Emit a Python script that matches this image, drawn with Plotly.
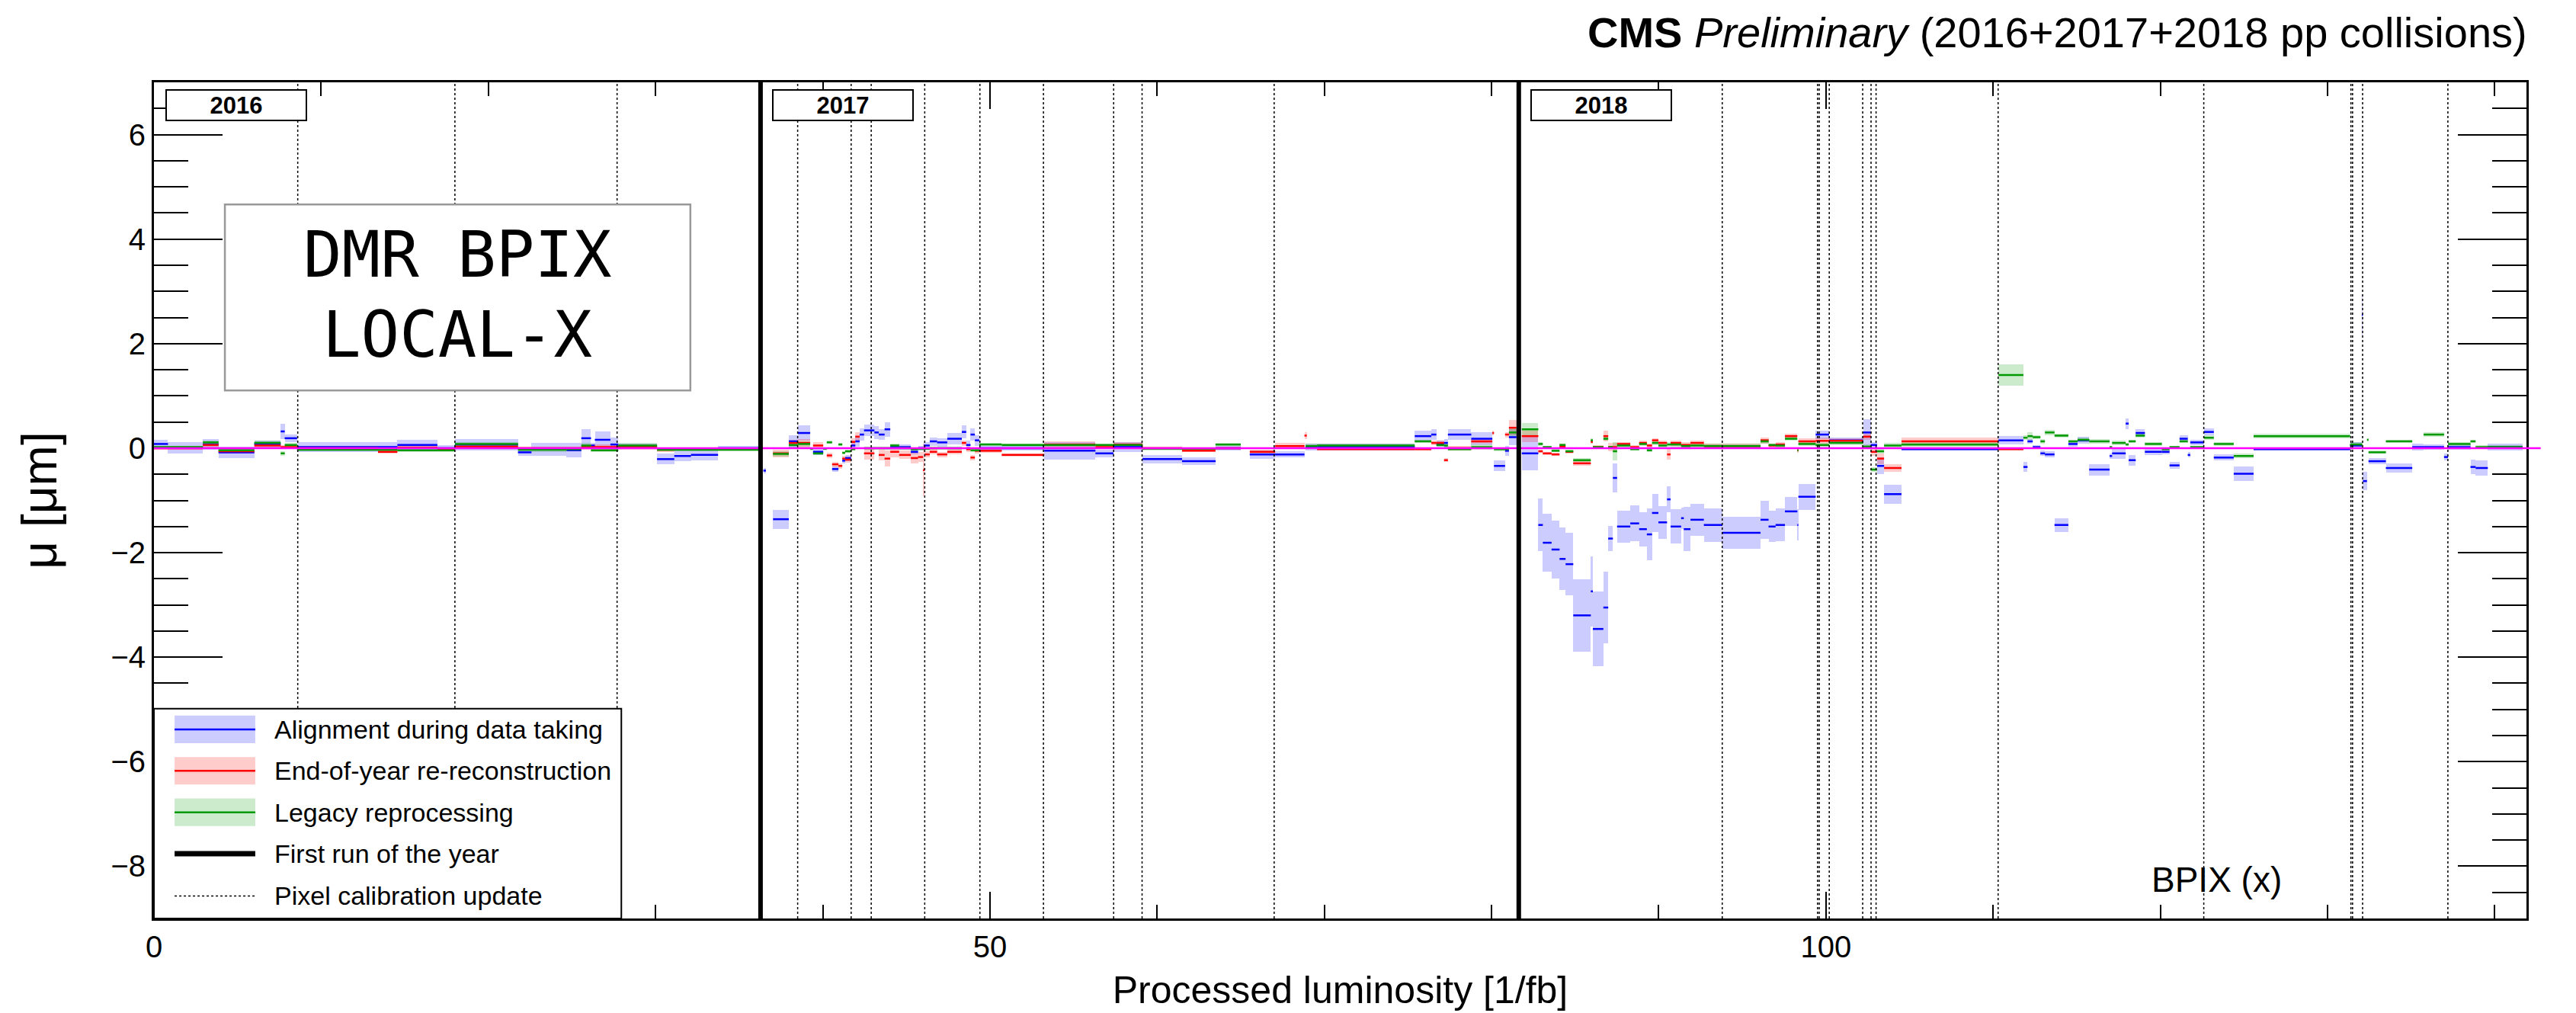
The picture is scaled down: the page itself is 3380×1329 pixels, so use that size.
import plotly.graph_objects as go

# ---------------- data (x_start, x_end, mean, error) in [1/fb] and [um] ----------------
blue_2016 = [
    (0.0, 0.84, 0.08, 0.08), (0.84, 2.93, 0.01, 0.11), (2.93, 3.86, 0.07, 0.1),
    (3.86, 6.0, -0.08, 0.11), (6.0, 7.58, 0.08, 0.07), (7.58, 7.82, 0.32, 0.15),
    (7.82, 8.56, 0.19, 0.07), (8.56, 14.56, 0.02, 0.09), (14.56, 16.95, 0.06, 0.1),
    (16.95, 18.0, 0.0, 0.06), (18.0, 21.77, 0.07, 0.11), (21.77, 22.58, -0.08, 0.07),
    (22.58, 24.68, -0.02, 0.12), (24.68, 25.56, -0.04, 0.14), (25.56, 26.14, 0.19, 0.18),
    (26.14, 26.37, 0.05, 0.05), (26.37, 27.3, 0.16, 0.16), (27.3, 27.77, 0.07, 0.13),
    (27.77, 30.09, 0.04, 0.05), (30.09, 31.12, -0.21, 0.1), (31.12, 32.12, -0.15, 0.1),
    (32.12, 33.74, -0.13, 0.1), (33.74, 36.19, 0.0, 0.05),
]
red_2016 = [
    (0.0, 2.93, 0.0, 0.03), (2.93, 3.86, 0.06, 0.04), (3.86, 6.0, -0.06, 0.04),
    (6.0, 7.58, 0.05, 0.04), (7.58, 8.56, 0.02, 0.04), (8.56, 13.4, 0.0, 0.03),
    (13.4, 14.56, -0.07, 0.03), (14.56, 16.95, 0.01, 0.03), (16.95, 18.0, -0.03, 0.03),
    (18.0, 21.77, 0.03, 0.03), (21.77, 25.56, 0.0, 0.03), (25.56, 26.14, 0.02, 0.05),
    (26.14, 30.09, 0.02, 0.05), (30.09, 31.12, -0.03, 0.04), (31.12, 36.19, -0.01, 0.03),
]
green_2016 = [
    (0.0, 2.93, 0.02, 0.03), (2.93, 3.86, 0.11, 0.04), (3.86, 6.0, -0.04, 0.04),
    (6.0, 7.58, 0.1, 0.04), (7.58, 7.82, -0.1, 0.04), (7.82, 8.56, 0.06, 0.04),
    (8.56, 14.56, -0.03, 0.03), (14.56, 18.0, -0.04, 0.03), (18.0, 21.77, 0.08, 0.04),
    (21.77, 24.68, -0.03, 0.04), (24.68, 25.56, -0.02, 0.04), (25.56, 26.14, 0.05, 0.05),
    (26.14, 27.77, -0.04, 0.04), (27.77, 30.09, 0.05, 0.05), (30.09, 36.19, -0.03, 0.03),
]

blue_2017 = [
    (36.45, 36.6, -0.43, 0.05), (37.03, 37.97, -1.36, 0.18), (37.97, 38.5, 0.13, 0.12),
    (38.5, 39.25, 0.29, 0.15), (39.42, 40.03, -0.07, 0.06), (40.56, 40.94, -0.4, 0.05),
    (41.17, 41.34, -0.24, 0.05), (41.34, 41.69, -0.19, 0.06), (41.69, 41.95, 0.05, 0.08),
    (41.95, 42.21, 0.13, 0.1), (42.21, 42.47, 0.26, 0.12), (42.47, 43.09, 0.34, 0.11),
    (43.09, 43.35, 0.3, 0.12), (43.35, 43.7, 0.26, 0.1), (43.7, 44.04, 0.36, 0.14),
    (44.04, 44.57, 0.02, 0.05), (44.57, 45.27, 0.02, 0.05), (45.27, 45.7, -0.07, 0.05),
    (45.7, 46.05, 0.0, 0.05), (46.05, 46.4, 0.05, 0.06), (46.4, 46.84, 0.13, 0.08),
    (46.84, 47.45, 0.11, 0.08), (47.45, 48.32, 0.18, 0.11), (48.32, 48.58, 0.31, 0.12),
    (48.58, 48.84, 0.06, 0.08), (48.84, 49.1, 0.26, 0.12), (49.1, 49.36, 0.15, 0.1),
    (49.36, 50.71, 0.0, 0.04), (50.71, 53.25, 0.0, 0.05), (53.25, 56.31, -0.05, 0.17),
    (56.31, 57.39, -0.1, 0.07), (57.39, 59.13, 0.02, 0.1), (59.13, 61.49, -0.21, 0.08),
    (61.49, 63.5, -0.25, 0.07), (63.5, 65.0, 0.0, 0.05), (65.54, 67.06, -0.12, 0.08),
    (67.06, 68.81, -0.12, 0.06), (68.88, 69.57, 0.02, 0.07), (69.57, 75.41, 0.02, 0.07),
    (75.41, 76.4, 0.23, 0.1), (76.4, 76.7, 0.26, 0.1), (76.7, 77.16, 0.09, 0.06),
    (77.16, 77.39, 0.1, 0.08), (77.39, 78.79, 0.26, 0.1), (78.79, 80.05, 0.18, 0.12),
    (80.15, 80.81, -0.34, 0.1), (80.81, 81.04, -0.05, 0.1), (81.04, 81.49, 0.21, 0.15),
]
red_2017 = [
    (37.03, 37.97, -0.1, 0.07), (37.97, 38.5, 0.1, 0.06), (38.5, 39.25, 0.1, 0.08),
    (39.42, 40.03, 0.05, 0.07), (40.24, 40.56, -0.14, 0.05), (40.56, 40.94, -0.31, 0.05),
    (40.94, 41.17, -0.34, 0.05), (41.17, 41.34, -0.2, 0.05), (41.34, 41.69, -0.22, 0.06),
    (41.69, 41.95, 0.12, 0.07), (41.95, 42.21, 0.22, 0.08), (42.47, 43.09, -0.1, 0.12),
    (43.35, 43.7, -0.13, 0.1), (43.7, 44.04, -0.2, 0.15), (44.04, 44.57, -0.07, 0.1),
    (44.57, 45.27, -0.13, 0.08), (45.27, 45.7, -0.19, 0.1), (45.7, 46.0, -0.17, 0.1),
    (46.0, 46.1, -0.42, 0.5), (46.1, 46.4, -0.12, 0.06), (46.4, 46.84, -0.07, 0.05),
    (46.84, 47.45, -0.12, 0.05), (47.45, 48.32, -0.07, 0.05), (48.32, 48.58, 0.1, 0.05),
    (48.58, 48.84, -0.02, 0.05), (48.84, 49.1, -0.18, 0.05), (49.1, 49.36, -0.05, 0.05),
    (49.36, 50.71, -0.05, 0.04), (50.71, 53.25, -0.13, 0.03), (53.25, 56.31, 0.07, 0.06),
    (56.31, 57.39, 0.02, 0.03), (57.39, 59.13, 0.07, 0.04), (59.13, 61.49, 0.0, 0.03),
    (61.49, 63.49, -0.05, 0.03), (63.49, 65.0, 0.0, 0.03), (65.54, 67.06, -0.07, 0.04),
    (67.06, 68.81, 0.04, 0.06), (68.81, 68.95, 0.24, 0.06), (69.57, 75.41, -0.02, 0.03),
    (75.41, 76.4, -0.02, 0.03), (76.4, 76.7, 0.1, 0.04), (76.7, 77.16, 0.1, 0.04),
    (77.16, 77.39, -0.23, 0.04), (77.39, 78.79, 0.0, 0.04), (78.79, 80.05, 0.13, 0.05),
    (80.05, 80.15, 0.29, 0.04), (80.81, 81.04, 0.26, 0.05), (81.04, 81.49, 0.39, 0.15),
]
green_2017 = [
    (37.03, 37.97, -0.11, 0.05), (37.97, 38.5, 0.06, 0.05), (38.5, 39.25, 0.08, 0.05),
    (39.25, 39.42, -0.01, 0.03), (39.42, 40.03, -0.1, 0.03), (40.03, 40.24, -0.01, 0.03),
    (40.24, 40.56, 0.11, 0.03), (40.94, 41.17, 0.07, 0.03), (41.17, 41.34, -0.09, 0.03),
    (41.34, 41.69, -0.06, 0.03), (41.69, 41.95, -0.02, 0.03), (42.47, 44.04, 0.0, 0.03),
    (44.04, 44.57, 0.05, 0.03), (44.57, 45.27, 0.0, 0.03), (45.27, 45.7, -0.02, 0.03),
    (45.7, 46.4, -0.01, 0.03), (46.4, 48.32, 0.0, 0.03), (48.84, 49.36, -0.04, 0.03),
    (49.36, 50.71, 0.07, 0.03), (50.71, 53.25, 0.06, 0.03), (53.25, 56.31, 0.06, 0.03),
    (56.31, 57.39, 0.06, 0.03), (57.39, 59.13, 0.06, 0.03), (59.13, 63.49, -0.01, 0.03),
    (63.49, 65.0, 0.07, 0.03), (68.88, 69.57, 0.04, 0.04), (69.57, 75.41, 0.05, 0.04),
    (75.41, 76.4, 0.13, 0.03), (76.7, 77.16, 0.06, 0.03), (77.16, 77.39, 0.05, 0.03),
    (77.39, 78.79, -0.02, 0.03), (78.79, 80.05, 0.02, 0.05), (80.15, 81.04, -0.02, 0.04),
    (81.04, 81.49, 0.3, 0.1),
]

blue_2018 = [
    (81.81, 82.8, -0.1, 0.32), (82.8, 83.07, -1.47, 0.5), (83.07, 83.59, -1.81, 0.55),
    (83.59, 84.07, -1.94, 0.56), (84.07, 84.43, -2.12, 0.6), (84.43, 84.89, -2.22, 0.6),
    (84.89, 85.94, -3.2, 0.69), (85.94, 86.06, -2.74, 0.67), (86.06, 86.69, -3.46, 0.71),
    (86.69, 86.98, -3.05, 0.69), (86.98, 87.26, -1.73, 0.24), (87.26, 87.51, -0.57, 0.28),
    (87.51, 88.3, -1.5, 0.31), (88.3, 88.83, -1.44, 0.34), (88.83, 89.29, -1.55, 0.33),
    (89.29, 89.6, -1.65, 0.5), (89.6, 89.98, -1.24, 0.36), (89.98, 90.5, -1.42, 0.31),
    (90.5, 90.71, -0.98, 0.25), (90.71, 91.34, -1.5, 0.33), (91.34, 91.5, -1.34, 0.2),
    (91.5, 91.9, -1.55, 0.42), (91.9, 92.7, -1.37, 0.31), (92.7, 93.81, -1.47, 0.32),
    (93.81, 96.09, -1.62, 0.31), (96.09, 96.57, -1.37, 0.36), (96.57, 96.99, -1.5, 0.3),
    (96.99, 97.55, -1.47, 0.31), (97.55, 98.29, -1.21, 0.28), (98.29, 98.35, -1.47, 0.3),
    (98.35, 99.39, -0.93, 0.25), (99.39, 100.19, 0.26, 0.08), (100.19, 102.22, 0.15, 0.06),
    (102.22, 102.68, 0.3, 0.26), (102.68, 103.06, 0.06, 0.06), (103.06, 103.48, -0.34, 0.16),
    (103.48, 104.52, -0.88, 0.18), (104.52, 110.32, -0.02, 0.03), (110.32, 111.81, 0.15, 0.08),
    (111.81, 112.06, -0.36, 0.1), (112.06, 112.37, 0.13, 0.05), (112.37, 112.83, 0.02, 0.04),
    (112.83, 113.1, -0.1, 0.05), (113.1, 113.67, -0.12, 0.06), (113.67, 114.5, -1.47, 0.13),
    (114.5, 115.05, 0.08, 0.05), (115.05, 115.75, 0.15, 0.07), (115.75, 116.97, -0.41, 0.11),
    (116.97, 117.12, -0.15, 0.05), (117.12, 117.93, -0.1, 0.1), (117.93, 118.11, 0.47, 0.1),
    (118.11, 118.53, -0.23, 0.1), (118.53, 119.08, 0.29, 0.07), (119.08, 120.09, -0.07, 0.06),
    (120.09, 120.55, -0.07, 0.05), (120.55, 121.15, -0.33, 0.07), (121.15, 121.64, 0.18, 0.06),
    (121.64, 121.79, -0.13, 0.05), (121.79, 122.61, 0.11, 0.05), (122.61, 123.2, 0.31, 0.07),
    (123.2, 124.39, -0.18, 0.06), (124.39, 125.58, -0.49, 0.14), (125.58, 131.35, -0.02, 0.03),
    (131.35, 132.05, 0.05, 0.07), (132.05, 132.12, 2.55, 0.4), (132.12, 132.36, -0.63, 0.18),
    (132.45, 133.49, -0.25, 0.06), (133.49, 135.07, -0.38, 0.09), (135.07, 135.75, 0.02, 0.06),
    (135.75, 136.97, 0.02, 0.05), (136.97, 137.21, -0.17, 0.06), (137.21, 138.55, 0.02, 0.05),
    (138.55, 138.86, -0.36, 0.14), (138.86, 139.59, -0.38, 0.14), (139.59, 141.66, 0.02, 0.07),
]
red_2018 = [
    (81.81, 82.8, 0.23, 0.11), (82.8, 83.07, -0.06, 0.03), (83.07, 83.59, -0.1, 0.03),
    (83.59, 84.07, -0.12, 0.03), (84.07, 84.43, 0.03, 0.05), (84.43, 84.89, -0.07, 0.03),
    (84.89, 85.94, -0.29, 0.04), (85.94, 86.06, 0.12, 0.04), (86.06, 86.69, 0.02, 0.04),
    (86.69, 86.98, 0.23, 0.1), (86.98, 87.51, 0.02, 0.08), (87.51, 88.3, 0.08, 0.04),
    (88.3, 88.83, 0.02, 0.04), (88.83, 89.29, 0.1, 0.04), (89.29, 89.6, 0.05, 0.04),
    (89.6, 89.98, 0.15, 0.04), (89.98, 90.5, 0.1, 0.05), (90.5, 90.71, -0.12, 0.1),
    (90.71, 91.34, 0.1, 0.05), (91.34, 91.9, 0.06, 0.05), (91.9, 92.7, 0.1, 0.05),
    (92.7, 93.81, 0.04, 0.04), (93.81, 96.09, 0.04, 0.04), (96.09, 96.57, 0.15, 0.06),
    (96.57, 96.99, 0.05, 0.04), (96.99, 97.55, 0.07, 0.05), (97.55, 98.29, 0.23, 0.04),
    (98.29, 98.35, -0.04, 0.05), (98.35, 99.39, 0.13, 0.06), (99.39, 100.19, 0.14, 0.06),
    (100.19, 102.22, 0.14, 0.05), (102.22, 102.68, 0.22, 0.06), (102.68, 103.06, -0.07, 0.08),
    (103.06, 103.48, -0.2, 0.1), (103.48, 104.52, -0.38, 0.08), (104.52, 110.32, 0.13, 0.07),
    (110.32, 111.81, -0.02, 0.03),
]
green_2018 = [
    (81.81, 82.8, 0.36, 0.12), (82.8, 83.07, 0.08, 0.03), (83.07, 83.59, 0.02, 0.03),
    (83.59, 84.07, -0.05, 0.03), (84.07, 84.43, 0.06, 0.03), (84.43, 84.89, -0.06, 0.03),
    (84.89, 85.94, -0.23, 0.04), (85.94, 86.06, 0.15, 0.04), (86.06, 86.69, 0.02, 0.03),
    (86.69, 86.98, 0.18, 0.04), (86.98, 87.26, 0.02, 0.03), (87.26, 87.51, -0.06, 0.17),
    (87.51, 88.3, 0.05, 0.04), (88.3, 88.83, -0.02, 0.03), (88.83, 89.29, 0.08, 0.04),
    (89.29, 89.6, -0.04, 0.03), (89.6, 89.98, 0.1, 0.04), (89.98, 90.5, 0.05, 0.04),
    (90.5, 90.71, 0.07, 0.04), (90.71, 91.34, 0.07, 0.05), (91.34, 91.9, 0.04, 0.04),
    (91.9, 92.7, 0.05, 0.04), (92.7, 93.81, 0.04, 0.04), (93.81, 96.09, 0.04, 0.04),
    (96.09, 96.57, 0.13, 0.05), (96.57, 96.99, 0.06, 0.03), (96.99, 97.55, 0.05, 0.03),
    (97.55, 98.29, 0.18, 0.04), (98.29, 98.35, -0.04, 0.04), (98.35, 99.39, 0.08, 0.04),
    (99.39, 100.19, 0.06, 0.04), (100.19, 102.22, 0.1, 0.04), (102.22, 102.68, 0.03, 0.04),
    (102.68, 103.06, -0.41, 0.05), (103.06, 103.48, -0.06, 0.04), (103.48, 104.52, 0.05, 0.05),
    (104.52, 110.32, 0.07, 0.04), (110.32, 111.81, 1.4, 0.2), (111.81, 112.06, 0.2, 0.04),
    (112.06, 112.37, 0.23, 0.07), (112.37, 112.83, 0.21, 0.04), (112.83, 113.1, 0.13, 0.04),
    (113.1, 113.67, 0.3, 0.05), (113.67, 114.5, 0.24, 0.04), (114.5, 115.05, 0.13, 0.03),
    (115.05, 115.75, 0.16, 0.04), (115.75, 116.97, 0.13, 0.04), (116.97, 117.12, 0.02, 0.03),
    (117.12, 117.93, 0.1, 0.04), (117.93, 118.11, 0.07, 0.03), (118.11, 118.53, 0.13, 0.03),
    (118.53, 119.08, 0.24, 0.04), (119.08, 120.09, 0.08, 0.03), (120.09, 120.55, -0.02, 0.03),
    (120.55, 121.15, 0.02, 0.03), (121.15, 121.64, 0.13, 0.03), (121.79, 122.61, 0.02, 0.03),
    (122.61, 123.2, 0.2, 0.04), (123.2, 124.39, 0.08, 0.03), (124.39, 125.58, -0.15, 0.04),
    (125.58, 131.35, 0.23, 0.04), (131.35, 132.08, 0.07, 0.04), (132.36, 132.45, 0.16, 0.03),
    (132.45, 133.49, -0.08, 0.03), (133.49, 135.07, 0.13, 0.03), (135.75, 136.97, 0.26, 0.04),
    (137.21, 138.55, 0.08, 0.04), (138.55, 138.86, 0.13, 0.03), (138.86, 139.59, 0.02, 0.04),
    (139.59, 141.66, 0.02, 0.04),
]

first_runs = [36.28, 81.63]
year_labels = ["2016", "2017", "2018"]
year_starts = [0.0, 36.28, 81.63]
pixel_calib_updates = [8.6, 18.0, 27.7, 38.5, 41.7, 42.9, 46.1, 49.4, 53.2, 57.4, 59.1, 67.0,
                       93.8, 99.5, 99.6, 100.2, 102.2, 102.7, 103.0, 110.3, 122.6, 131.4,
                       131.5, 132.1, 137.2]
series_names = ["Alignment during data taking", "End-of-year re-reconstruction", "Legacy reprocessing"]
other_names = ["First run of the year", "Pixel calibration update"]

X_MAX = 141.9
FONT = "Liberation Sans, Arial, Helvetica, sans-serif"

BLUE, BLUE_BAND = "#0000ff", "rgba(0,0,255,0.2)"
RED, RED_BAND = "#ff0000", "rgba(255,0,0,0.2)"
GREEN, GREEN_BAND = "#009900", "rgba(0,153,0,0.2)"

fig = go.Figure()


def add_series(segs, line_color, band_color, name):
    centers = [(a + b) / 2 for a, b, m, e in segs]
    widths = [b - a for a, b, m, e in segs]
    bases = [m - e for a, b, m, e in segs]
    heights = [2 * e for a, b, m, e in segs]
    fig.add_trace(go.Bar(x=centers, y=heights, base=bases, width=widths,
                         marker=dict(color=band_color, line=dict(width=0)),
                         name=name, showlegend=False, hoverinfo="skip"))
    xs, ys = [], []
    for a, b, m, e in segs:
        xs += [a, b, None]
        ys += [m, m, None]
    fig.add_trace(go.Scatter(x=xs, y=ys, mode="lines", line=dict(color=line_color, width=2.5),
                             name=name, showlegend=False, hoverinfo="skip"))


add_series(blue_2016 + blue_2017 + blue_2018, BLUE, BLUE_BAND, series_names[0])
add_series(red_2016 + red_2017 + red_2018, RED, RED_BAND, series_names[1])
add_series(green_2016 + green_2017 + green_2018, GREEN, GREEN_BAND, series_names[2])

shapes = []
# zero line
shapes.append(dict(type="line", xref="paper", yref="y", x0=0, x1=1.006, y0=0, y1=0,
                   line=dict(color="#ff00ff", width=2.5)))
for xv in pixel_calib_updates:
    shapes.append(dict(type="line", xref="x", yref="paper", x0=xv, x1=xv, y0=0, y1=1,
                       line=dict(color="black", width=1.5, dash="dot")))
for xv in first_runs:
    shapes.append(dict(type="line", xref="x", yref="paper", x0=xv, x1=xv, y0=0, y1=1,
                       line=dict(color="black", width=6)))

# DMR text box
shapes.append(dict(type="rect", xref="paper", yref="paper", x0=0.0299, x1=0.2261, y0=0.6315, y1=0.854,
                   line=dict(color="#999999", width=2.5), fillcolor="white"))

# manual legend box
LX0, LX1 = 0.0, 0.197
shapes.append(dict(type="rect", xref="paper", yref="paper", x0=LX0, x1=LX1, y0=0.0, y1=0.251,
                   line=dict(color="black", width=2), fillcolor="white"))
leg_y = [0.2261, 0.1766, 0.1270, 0.0775, 0.0270]
sx0, sx1, sh = 0.0087, 0.0427, 0.0165
for yc, lc, bc in zip(leg_y[:3], [BLUE, RED, GREEN], [BLUE_BAND, RED_BAND, GREEN_BAND]):
    shapes.append(dict(type="rect", xref="paper", yref="paper", x0=sx0, x1=sx1, y0=yc - sh, y1=yc + sh,
                       line=dict(width=0), fillcolor=bc))
    shapes.append(dict(type="line", xref="paper", yref="paper", x0=sx0, x1=sx1, y0=yc, y1=yc,
                       line=dict(color=lc, width=2.5)))
shapes.append(dict(type="line", xref="paper", yref="paper", x0=sx0, x1=sx1, y0=leg_y[3], y1=leg_y[3],
                   line=dict(color="black", width=7)))
shapes.append(dict(type="line", xref="paper", yref="paper", x0=sx0, x1=sx1, y0=leg_y[4], y1=leg_y[4],
                   line=dict(color="black", width=1.5, dash="dot")))

annotations = []
for yc, txt in zip(leg_y, series_names + other_names):
    annotations.append(dict(xref="paper", yref="paper", x=0.0501, y=yc, xanchor="left", yanchor="middle",
                            text=txt, showarrow=False, font=dict(family=FONT, size=34, color="black")))

for xs_, lab in zip(year_starts, year_labels):
    annotations.append(dict(xref="x", yref="paper", x=xs_, y=1, xanchor="left", yanchor="top",
                            xshift=15, yshift=-9, text="<b>" + lab + "</b>", showarrow=False,
                            font=dict(family=FONT, size=31, color="black"),
                            bordercolor="black", borderwidth=2, borderpad=1, bgcolor="white",
                            width=180, height=36))

annotations.append(dict(xref="paper", yref="paper", x=0.1279, y=0.7937, xanchor="center", yanchor="middle",
                        text="DMR BPIX", showarrow=False,
                        font=dict(family="DejaVu Sans Mono, monospace", size=84, color="black")))
annotations.append(dict(xref="paper", yref="paper", x=0.1279, y=0.6982, xanchor="center", yanchor="middle",
                        text="LOCAL-X", showarrow=False,
                        font=dict(family="DejaVu Sans Mono, monospace", size=84, color="black")))

annotations.append(dict(xref="paper", yref="paper", x=1.001, y=1.0595, xanchor="right", yanchor="middle",
                        text="<b>CMS</b> <i>Preliminary</i> (2016+2017+2018 pp collisions)",
                        showarrow=False, font=dict(family=FONT, size=56, color="black")))
annotations.append(dict(xref="paper", yref="paper", x=0.8693, y=0.0468, xanchor="center", yanchor="middle",
                        text="BPIX (x)", showarrow=False, font=dict(family=FONT, size=46, color="black")))

fig.update_layout(
    width=3380, height=1329,
    margin=dict(l=202, r=65, t=108, b=111),
    paper_bgcolor="white", plot_bgcolor="white",
    barmode="overlay", bargap=0,
    showlegend=False,
    font=dict(family=FONT, color="black"),
    shapes=shapes, annotations=annotations,
    xaxis=dict(range=[0, X_MAX], tickvals=[0, 50, 100], ticks="inside", ticklen=35, tickwidth=2,
               tickcolor="black", showline=True, linecolor="black", linewidth=3, mirror="allticks",
               showgrid=False, zeroline=False, tickfont=dict(size=40, family=FONT),
               minor=dict(dtick=10, ticks="inside", ticklen=18, tickwidth=2, tickcolor="black", showgrid=False),
               title=dict(text="Processed luminosity [1/fb]", font=dict(size=50, family=FONT), standoff=18)),
    yaxis=dict(range=[-9, 7], dtick=2, tick0=0, ticks="inside", ticklen=90, tickwidth=2,
               tickcolor="black", showline=True, linecolor="black", linewidth=3, mirror="allticks",
               showgrid=False, zeroline=False, tickfont=dict(size=40, family=FONT),
               minor=dict(dtick=0.5, ticks="inside", ticklen=45, tickwidth=2, tickcolor="black", showgrid=False),
               title=dict(text="μ [μm]", font=dict(size=64, family=FONT), standoff=50)),
)

fig.write_html("out.html")
